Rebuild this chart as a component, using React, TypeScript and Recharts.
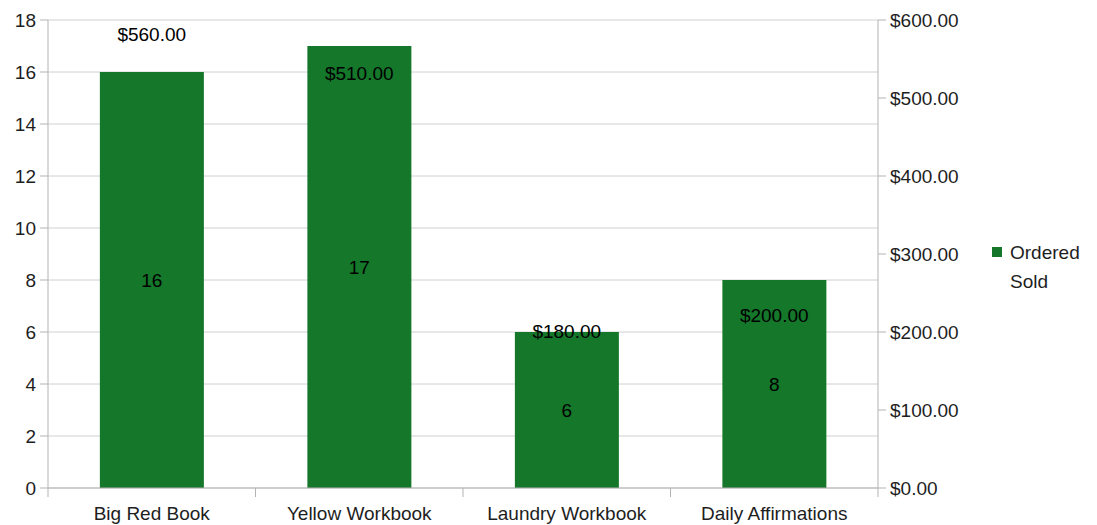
import React from "react";
import {
  ComposedChart,
  Bar,
  Line,
  XAxis,
  YAxis,
  CartesianGrid,
  LabelList,
  Legend,
} from "recharts";

const categories = ["Big Red Book", "Yellow Workbook", "Laundry Workbook", "Daily Affirmations"];
const ordered = [16, 17, 6, 8];
const sold = [560, 510, 180, 200];
const leftTicks = [0, 2, 4, 6, 8, 10, 12, 14, 16, 18];
const rightTicks = [0, 100, 200, 300, 400, 500, 600];

const data = categories.map((name, i) => ({ name, ordered: ordered[i], sold: sold[i] }));

const FONT = "'Liberation Sans', Arial, sans-serif";
const GREEN = "#14772a";
const AXIS = "#b3b3b3";
const GRID = "#d0d0d0";
const TEXT = "#1e1e1e";
const FS = 19;

const money = (v: number) => `$${Number(v).toFixed(2)}`;

// category label plus a small tick at the band boundaries, like the source chart
function CategoryTick(props: any) {
  const { x, y, payload, index, visibleTicksCount } = props;
  const band = 830 / categories.length;
  const axisY = y - 9;
  return (
    <g>
      <line x1={x - band / 2} x2={x - band / 2} y1={axisY} y2={axisY + 9} stroke={AXIS} />
      {index === visibleTicksCount - 1 && (
        <line x1={x + band / 2} x2={x + band / 2} y1={axisY} y2={axisY + 9} stroke={AXIS} />
      )}
      <text x={x} y={y + 10} dy="0.71em" textAnchor="middle" fill={TEXT} fontSize={FS} fontFamily={FONT}>
        {payload.value}
      </text>
    </g>
  );
}

function LegendBox() {
  return (
    <div style={{ width: 107, fontFamily: FONT, fontSize: FS, color: TEXT, lineHeight: "29px", marginTop: 8 }}>
      <div style={{ display: "flex", alignItems: "center" }}>
        <span style={{ width: 10, height: 10, background: GREEN, display: "inline-block", marginRight: 8, marginLeft: 2 }} />
        Ordered
      </div>
      <div style={{ paddingLeft: 20 }}>Sold</div>
    </div>
  );
}

export default function App() {
  const tickStyle = { fill: TEXT, fontSize: FS, fontFamily: FONT };
  return (
    <div style={{ position: "absolute", left: 0, top: 0, background: "#fff" }}>
      <ComposedChart width={1097} height={525} data={data} margin={{ top: 20, right: 0, bottom: 0, left: 0 }} barCategoryGap="25%">
        <CartesianGrid vertical={false} stroke={GRID} yAxisId="left" />
        <XAxis
          dataKey="name"
          tick={<CategoryTick />}
          tickLine={false}
          tickSize={9}
          tickMargin={0}
          axisLine={{ stroke: AXIS }}
          height={37}
          interval={0}
        />
        <YAxis
          yAxisId="left"
          domain={[0, 18]}
          ticks={leftTicks}
          width={48}
          tick={tickStyle}
          tickSize={8}
          tickMargin={4}
          tickLine={{ stroke: AXIS }}
          axisLine={{ stroke: AXIS }}
        />
        <YAxis
          yAxisId="right"
          orientation="right"
          domain={[0, 600]}
          ticks={rightTicks}
          width={112}
          tick={tickStyle}
          tickSize={8}
          tickMargin={4}
          tickFormatter={money}
          tickLine={{ stroke: AXIS }}
          axisLine={{ stroke: AXIS }}
        />
        <Legend layout="vertical" align="right" verticalAlign="middle" content={<LegendBox />} />
        <Bar yAxisId="left" dataKey="ordered" name="Ordered" fill={GREEN} isAnimationActive={false}>
          <LabelList dataKey="ordered" position="center" fill="#000" fontSize={FS} fontFamily={FONT} />
        </Bar>
        <Line
          yAxisId="right"
          dataKey="sold"
          name="Sold"
          stroke="none"
          dot={false}
          activeDot={false}
          isAnimationActive={false}
        >
          <LabelList dataKey="sold" position="top" offset={10} formatter={money} fill="#000" fontSize={FS} fontFamily={FONT} />
        </Line>
      </ComposedChart>
    </div>
  );
}
